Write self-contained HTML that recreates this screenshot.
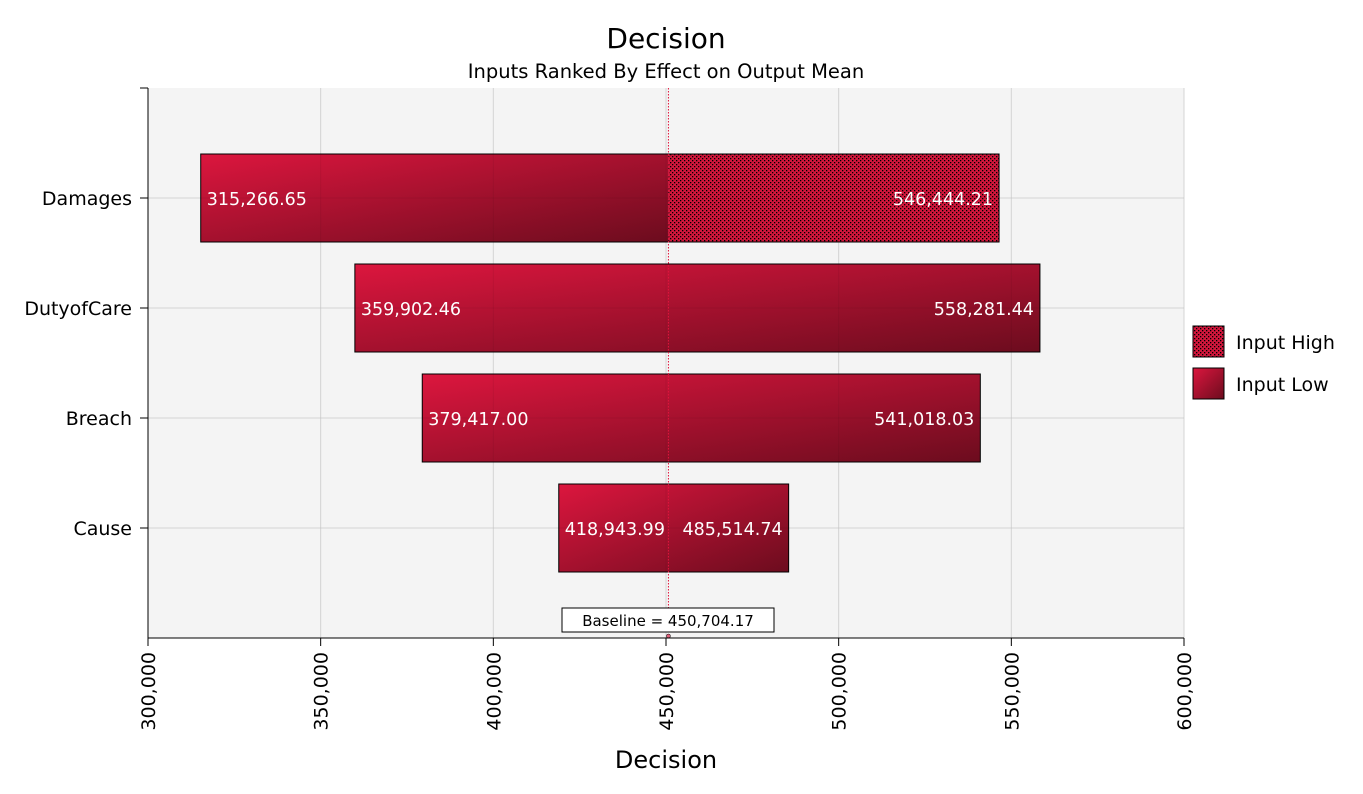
<!DOCTYPE html>
<html><head><meta charset="utf-8"><style>
body{margin:0;background:#fff;width:1363px;height:790px;overflow:hidden;font-family:"DejaVu Sans","Liberation Sans",sans-serif}
</style></head><body>
<svg id="chart" width="1363" height="790" xmlns="http://www.w3.org/2000/svg">
<defs>
<linearGradient id="grad" x1="0" y1="0" x2="1" y2="1">
<stop offset="0" stop-color="#dc163e"/><stop offset="1" stop-color="#6c0c1e"/></linearGradient>
<pattern id="hatch" width="4" height="4" patternUnits="userSpaceOnUse">
<rect width="4" height="4" fill="#d4163c"/><rect x="0" y="0" width="1.3" height="1.3" fill="#000"/><rect x="2" y="2" width="1.3" height="1.3" fill="#000"/></pattern>
</defs>
<text x="666" y="48" text-anchor="middle" font-size="28" fill="#000">Decision</text>
<text x="666" y="78" text-anchor="middle" font-size="19.5" fill="#000">Inputs Ranked By Effect on Output Mean</text>
<rect x="148" y="88" width="1036" height="550" fill="#f4f4f4"/>
<g id="grid"></g><g id="bars"></g><g id="gridover"></g>
<line x1="148" y1="88" x2="148" y2="638" stroke="#000"/>
<line x1="148" y1="638" x2="1184" y2="638" stroke="#000"/>
<g id="axes"></g>
<text x="666" y="768" text-anchor="middle" font-size="24" fill="#000">Decision</text>
<rect x="1193" y="326" width="31" height="31" fill="url(#hatch)" stroke="#000"/>
<text x="1236" y="349" font-size="19" fill="#000">Input High</text>
<rect x="1193" y="368" width="31" height="31" fill="url(#grad)" stroke="#000"/>
<text x="1236" y="391" font-size="19" fill="#000">Input Low</text>
</svg>
<script>
const categories=["Damages","DutyofCare","Breach","Cause"];
const lowValues=[315266.65,359902.46,379417.00,418943.99];
const highValues=[546444.21,558281.44,541018.03,485514.74];
const hatchedHigh=[true,false,false,false];
const baseline=450704.17;
const xTicks=[300000,350000,400000,450000,500000,550000,600000];
const NS="http://www.w3.org/2000/svg";
const X0=148,X1=1184,XMIN=300000,XMAX=600000,Y0=88,BAND=110;
const x=v=>X0+(v-XMIN)/(XMAX-XMIN)*(X1-X0);
const y=i=>Y0+BAND*(i+1);
function mk(tag,attrs,parent){const e=document.createElementNS(NS,tag);for(const k in attrs)e.setAttribute(k,attrs[k]);document.getElementById(parent).appendChild(e);return e;}
const fmt=v=>v.toLocaleString("en-US",{minimumFractionDigits:2,maximumFractionDigits:2});
xTicks.forEach(t=>{
 const g=mk("line",{x1:x(t),x2:x(t),y1:Y0,y2:638,stroke:"#e2e2e2"},"grid");
 
 
 mk("line",{x1:x(t),x2:x(t),y1:Y0,y2:638,stroke:"rgba(0,0,0,0.06)"},"gridover");
 mk("line",{x1:x(t),x2:x(t),y1:638,y2:646,stroke:"#000"},"axes");
 const tx=x(t)+7;
 const l=mk("text",{x:tx,y:652,"font-size":19,fill:"#000","text-anchor":"end",transform:`rotate(-90 ${tx} 652)`},"axes");
 l.textContent=t.toLocaleString("en-US");
 
 
});
mk("line",{x1:140,x2:148,y1:88,y2:88,stroke:"#000"},"axes");
categories.forEach((c,i)=>{
 const cy=y(i);
 const g=mk("line",{x1:X0,x2:X1,y1:cy,y2:cy,stroke:"#e2e2e2"},"grid");
 
 
 mk("line",{x1:X0,x2:X1,y1:cy,y2:cy,stroke:"rgba(0,0,0,0.06)"},"gridover");
 mk("line",{x1:140,x2:148,y1:cy,y2:cy,stroke:"#000"},"axes");
 const lab=mk("text",{x:132,y:cy+7,"font-size":19,fill:"#000","text-anchor":"end"},"axes");
 lab.textContent=c;
 
 
 const lo=x(lowValues[i]),hi=x(highValues[i]),bl=x(baseline),top=cy-44,h=88;
 if(hatchedHigh[i]){
  const a=mk("rect",{x:lo,y:top,width:bl-lo,height:h,fill:"url(#grad)"},"bars");
  
  
  const b=mk("rect",{x:bl,y:top,width:hi-bl,height:h,fill:"url(#hatch)"},"bars");
  
  
  mk("rect",{x:lo,y:top,width:hi-lo,height:h,fill:"none",stroke:"#000"},"bars");
 } else {
  const a=mk("rect",{x:lo,y:top,width:hi-lo,height:h,fill:"url(#grad)",stroke:"#000"},"bars");
  
  
 }
 const t1=mk("text",{x:lo+6,y:cy+7,"font-size":17.5,fill:"#fff"},"bars");
 t1.textContent=fmt(lowValues[i]);
 
 
 const t2=mk("text",{x:hi-6,y:cy+7,"font-size":17.5,fill:"#fff","text-anchor":"end"},"bars");
 t2.textContent=fmt(highValues[i]);
 
 
});
const bx=x(baseline);
const bline=mk("line",{x1:bx,x2:bx,y1:Y0,y2:636,stroke:"#e0143c","stroke-dasharray":"1.5,1.5"},"gridover");


const box=mk("rect",{x:562,y:608,width:212,height:24,fill:"#fff",stroke:"#000"},"gridover");


const bt=mk("text",{x:668,y:626,"font-size":15,fill:"#000","text-anchor":"middle"},"gridover");
bt.textContent="Baseline = "+fmt(baseline);


mk("circle",{cx:bx,cy:636,r:2,fill:"#e0607a",stroke:"#000","stroke-width":0.5},"gridover");
</script>
</body></html>
